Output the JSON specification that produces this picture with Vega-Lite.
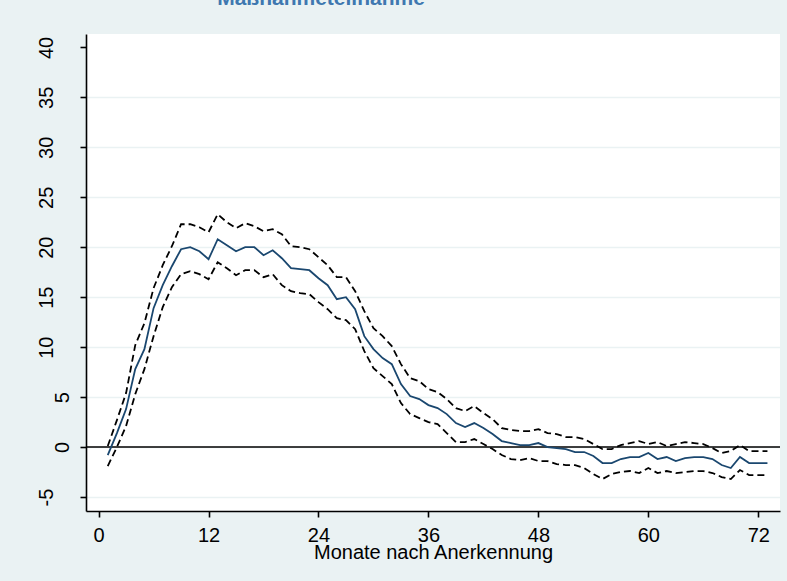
{
  "$schema": "https://vega.github.io/schema/vega-lite/v6.json",
  "width": 694,
  "height": 477,
  "autosize": {"type": "none"},
  "padding": {"left": 86, "top": 34, "right": 7, "bottom": 70},
  "background": "#eaf2f3",
  "title": {
    "text": "Maßnahmeteilnahme",
    "anchor": "middle",
    "dx": -112,
    "offset": 8,
    "baseline": "alphabetic",
    "font": "Liberation Sans",
    "fontSize": 21,
    "fontWeight": "bold",
    "color": "#3f78b0"
  },
  "config": {
    "view": {"fill": "white", "stroke": null},
    "axis": {
      "labelFont": "Liberation Sans",
      "labelFontSize": 20,
      "labelColor": "#000000",
      "titleFont": "Liberation Sans",
      "titleFontSize": 20,
      "titleFontWeight": "normal",
      "titleColor": "#000000",
      "domainColor": "#000000",
      "domainWidth": 1.6,
      "tickColor": "#000000",
      "tickWidth": 1.6,
      "tickSize": 6
    }
  },
  "datasets": {
    "est": [
      {"m": 1, "est": -0.8, "lo": -1.9, "hi": 0.1},
      {"m": 2, "est": 1.4, "lo": 0.0, "hi": 2.7},
      {"m": 3, "est": 3.8, "lo": 2.1, "hi": 5.4},
      {"m": 4, "est": 7.8, "lo": 5.3, "hi": 10.2},
      {"m": 5, "est": 9.8, "lo": 7.8, "hi": 12.4},
      {"m": 6, "est": 13.9, "lo": 11.1, "hi": 15.9},
      {"m": 7, "est": 16.2, "lo": 14.0, "hi": 18.2},
      {"m": 8, "est": 18.1, "lo": 16.0, "hi": 20.1},
      {"m": 9, "est": 19.8, "lo": 17.3, "hi": 22.3},
      {"m": 10, "est": 20.0, "lo": 17.6, "hi": 22.3},
      {"m": 11, "est": 19.6, "lo": 17.3, "hi": 22.0},
      {"m": 12, "est": 18.8, "lo": 16.8, "hi": 21.5},
      {"m": 13, "est": 20.8, "lo": 18.5, "hi": 23.3},
      {"m": 14, "est": 20.2, "lo": 17.9, "hi": 22.5},
      {"m": 15, "est": 19.6, "lo": 17.2, "hi": 21.9},
      {"m": 16, "est": 20.0, "lo": 17.7, "hi": 22.4},
      {"m": 17, "est": 20.0, "lo": 17.7, "hi": 22.1},
      {"m": 18, "est": 19.2, "lo": 17.0, "hi": 21.6},
      {"m": 19, "est": 19.7, "lo": 17.3, "hi": 21.8},
      {"m": 20, "est": 18.9, "lo": 16.2, "hi": 21.3},
      {"m": 21, "est": 17.9, "lo": 15.6, "hi": 20.1},
      {"m": 22, "est": 17.8, "lo": 15.4, "hi": 20.0},
      {"m": 23, "est": 17.7, "lo": 15.3, "hi": 19.8},
      {"m": 24, "est": 16.9, "lo": 14.5, "hi": 19.0},
      {"m": 25, "est": 16.2, "lo": 13.8, "hi": 18.2},
      {"m": 26, "est": 14.8, "lo": 12.9, "hi": 17.0},
      {"m": 27, "est": 15.0, "lo": 12.7, "hi": 17.0},
      {"m": 28, "est": 13.8, "lo": 11.8, "hi": 15.6},
      {"m": 29, "est": 11.1, "lo": 9.6, "hi": 13.6},
      {"m": 30, "est": 9.8, "lo": 7.9, "hi": 11.9},
      {"m": 31, "est": 8.9, "lo": 7.1, "hi": 11.1},
      {"m": 32, "est": 8.3, "lo": 6.3, "hi": 10.1},
      {"m": 33, "est": 6.3, "lo": 4.4, "hi": 8.3},
      {"m": 34, "est": 5.1, "lo": 3.3, "hi": 6.9},
      {"m": 35, "est": 4.8, "lo": 2.9, "hi": 6.6},
      {"m": 36, "est": 4.2, "lo": 2.5, "hi": 5.8},
      {"m": 37, "est": 3.9, "lo": 2.3, "hi": 5.5},
      {"m": 38, "est": 3.3, "lo": 1.4, "hi": 4.8},
      {"m": 39, "est": 2.4, "lo": 0.5, "hi": 3.9},
      {"m": 40, "est": 2.0, "lo": 0.5, "hi": 3.6},
      {"m": 41, "est": 2.4, "lo": 0.8, "hi": 4.1},
      {"m": 42, "est": 1.9, "lo": 0.3, "hi": 3.4},
      {"m": 43, "est": 1.3, "lo": -0.2, "hi": 2.8},
      {"m": 44, "est": 0.6, "lo": -0.8, "hi": 1.9},
      {"m": 45, "est": 0.4, "lo": -1.2, "hi": 1.7},
      {"m": 46, "est": 0.2, "lo": -1.3, "hi": 1.6},
      {"m": 47, "est": 0.2, "lo": -1.1, "hi": 1.6},
      {"m": 48, "est": 0.4, "lo": -1.4, "hi": 1.8},
      {"m": 49, "est": 0.0, "lo": -1.4, "hi": 1.4},
      {"m": 50, "est": -0.1, "lo": -1.7, "hi": 1.3},
      {"m": 51, "est": -0.2, "lo": -1.8, "hi": 1.0},
      {"m": 52, "est": -0.5, "lo": -1.8, "hi": 1.0},
      {"m": 53, "est": -0.5, "lo": -2.1, "hi": 0.8},
      {"m": 54, "est": -0.9, "lo": -2.7, "hi": 0.3},
      {"m": 55, "est": -1.6, "lo": -3.2, "hi": -0.2},
      {"m": 56, "est": -1.6, "lo": -2.7, "hi": -0.2},
      {"m": 57, "est": -1.2, "lo": -2.5, "hi": 0.2},
      {"m": 58, "est": -1.0, "lo": -2.4, "hi": 0.4},
      {"m": 59, "est": -1.0, "lo": -2.6, "hi": 0.6},
      {"m": 60, "est": -0.6, "lo": -2.1, "hi": 0.3},
      {"m": 61, "est": -1.2, "lo": -2.6, "hi": 0.5},
      {"m": 62, "est": -1.0, "lo": -2.4, "hi": 0.1},
      {"m": 63, "est": -1.4, "lo": -2.6, "hi": 0.3},
      {"m": 64, "est": -1.1, "lo": -2.5, "hi": 0.5},
      {"m": 65, "est": -1.0, "lo": -2.4, "hi": 0.4},
      {"m": 66, "est": -1.0, "lo": -2.4, "hi": 0.3},
      {"m": 67, "est": -1.2, "lo": -2.6, "hi": -0.1},
      {"m": 68, "est": -1.8, "lo": -3.0, "hi": -0.6},
      {"m": 69, "est": -2.1, "lo": -3.2, "hi": -0.4},
      {"m": 70, "est": -1.0, "lo": -2.3, "hi": 0.2},
      {"m": 71, "est": -1.6, "lo": -2.8, "hi": -0.4},
      {"m": 72, "est": -1.6, "lo": -2.8, "hi": -0.4},
      {"m": 73, "est": -1.6, "lo": -2.8, "hi": -0.4}
    ],
    "zero": [{"z": 0}]
  },
  "layer": [
    {
      "data": {"name": "zero"},
      "mark": {"type": "rule", "color": "#000000", "strokeWidth": 1.6},
      "encoding": {
        "y": {
          "field": "z",
          "type": "quantitative",
          "scale": {"domain": [-6.4, 41.34], "nice": false, "zero": false},
          "axis": {
            "values": [-5, 0, 5, 10, 15, 20, 25, 30, 35, 40],
            "labelAngle": -90,
            "labelAlign": "center",
            "labelBaseline": "bottom",
            "labelPadding": {"condition": {"test": "datum.value == 0 || datum.value == 5", "value": 8}, "value": 24},
            "labelExpr": "'' + datum.value",
            "grid": true,
            "gridColor": "#eaf2f3",
            "gridWidth": 1.6,
            "gridOpacity": {"condition": {"test": "datum.value == 40", "value": 0}, "value": 1},
            "title": null
          }
        }
      }
    },
    {
      "data": {"name": "est"},
      "mark": {"type": "line", "color": "#000000", "strokeWidth": 1.8, "strokeDash": [7, 4]},
      "encoding": {
        "x": {
          "field": "m",
          "type": "quantitative",
          "scale": {"domain": [-1.375, 74.37], "nice": false, "zero": false},
          "axis": {
            "values": [0, 12, 24, 36, 48, 60, 72],
            "grid": false,
            "labelPadding": 8,
            "labelOverlap": false,
            "title": "Monate nach Anerkennung",
            "titlePadding": -3
          }
        },
        "y": {"field": "hi", "type": "quantitative", "title": null}
      }
    },
    {
      "data": {"name": "est"},
      "mark": {"type": "line", "color": "#000000", "strokeWidth": 1.8, "strokeDash": [7, 4]},
      "encoding": {
        "x": {"field": "m", "type": "quantitative"},
        "y": {"field": "lo", "type": "quantitative", "title": null}
      }
    },
    {
      "data": {"name": "est"},
      "mark": {"type": "line", "color": "#1a476f", "strokeWidth": 1.8},
      "encoding": {
        "x": {"field": "m", "type": "quantitative"},
        "y": {"field": "est", "type": "quantitative", "title": null}
      }
    }
  ]
}
